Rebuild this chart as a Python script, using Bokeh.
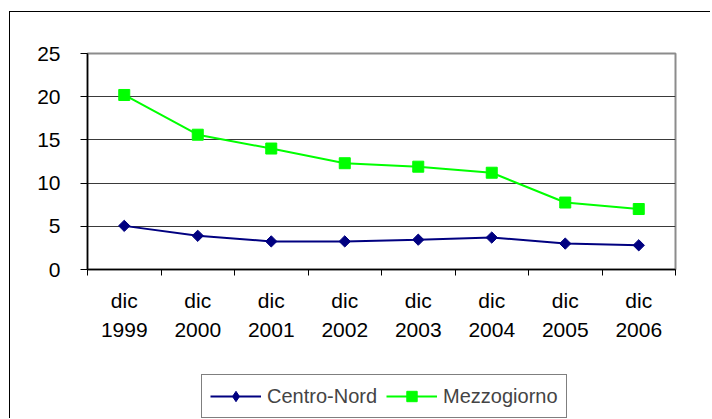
from bokeh.plotting import figure
from bokeh.models import Range1d, FixedTicker, Legend, LegendItem
from bokeh.layouts import column
from bokeh.embed import file_html
from bokeh.resources import INLINE
import numpy as np

months = ["dic"] * 8
years = ["1999", "2000", "2001", "2002", "2003", "2004", "2005", "2006"]
centro_nord = [5.05, 3.9, 3.25, 3.25, 3.45, 3.7, 3.0, 2.8]
mezzogiorno = [20.2, 15.6, 14.0, 12.3, 11.9, 11.2, 7.75, 7.0]
y_ticks = [0, 5, 10, 15, 20, 25]
series_names = ["Centro-Nord", "Mezzogiorno"]
series_colors = ["#000080", "#00ff00"]

n = len(years)
xc = list(np.arange(n) + 0.5)
labels = {float(x): f"{m}\n{y}" for x, m, y in zip(xc, months, years)}

FONT = "Liberation Sans"

p = figure(width=700, height=348, output_backend="svg", toolbar_location=None,
           x_range=Range1d(0, n), y_range=Range1d(0, 25),
           min_border_left=77, min_border_top=41, min_border_right=35,
           min_border_bottom=91)
p.background_fill_color = "white"
p.border_fill_color = "white"
p.outline_line_color = "#8c8c8c"
p.outline_line_width = 2

# grid
p.xgrid.grid_line_color = None
p.ygrid.ticker = FixedTicker(ticks=[5, 10, 15, 20])
p.ygrid.grid_line_color = "#3a3a3a"
p.ygrid.grid_line_width = 1

# y axis
ya = p.yaxis[0]
ya.ticker = FixedTicker(ticks=y_ticks)
ya.axis_line_color = "black"
ya.axis_line_width = 1.5
ya.major_tick_line_color = "black"
ya.major_tick_out = 7
ya.major_tick_in = 0
ya.minor_tick_line_color = None
ya.major_label_text_font = FONT
ya.major_label_text_font_size = "21px"
ya.major_label_text_color = "black"
ya.major_label_standoff = 20

# x axis
xa = p.xaxis[0]
xa.ticker = FixedTicker(ticks=xc, minor_ticks=list(range(n + 1)))
xa.major_label_overrides = labels
xa.axis_line_color = "black"
xa.axis_line_width = 1.5
xa.major_tick_line_color = None
xa.major_tick_out = 0
xa.major_tick_in = 0
xa.minor_tick_line_color = "black"
xa.minor_tick_out = 6
xa.minor_tick_in = 0
xa.major_label_text_font = FONT
xa.major_label_text_font_size = "21px"
xa.major_label_text_color = "black"
xa.major_label_text_line_height = 1.28
xa.major_label_standoff = 13

# series
def add_series(fig, yvals, color, marker, size, angle):
    ln = fig.line(xc, yvals, line_color=color, line_width=2)
    mk = fig.scatter(xc, yvals, marker=marker, angle=angle, size=size,
                     fill_color=color, line_color=color)
    return ln, mk

l1, m1 = add_series(p, centro_nord, series_colors[0], "square", 8, np.pi / 4)
l2, m2 = add_series(p, mezzogiorno, series_colors[1], "square", 11, 0)

# legend strip (separate canvas so the legend is not clipped by the plot frame);
# its copies of the series lie outside its visible range, only legend glyphs show
q = figure(width=700, height=58, output_backend="svg", toolbar_location=None,
           x_range=Range1d(0, 1), y_range=Range1d(-2, -1),
           min_border_left=0, min_border_right=0, min_border_top=0,
           min_border_bottom=0)
q.axis.visible = False
q.grid.visible = False
q.outline_line_color = None
q.background_fill_color = "white"
q.border_fill_color = "white"
ql1, qm1 = add_series(q, centro_nord, series_colors[0], "diamond", 14, 0)
ql2, qm2 = add_series(q, mezzogiorno, series_colors[1], "square", 11, 0)

legend = Legend(items=[LegendItem(label=series_names[0], renderers=[ql1, qm1]),
                       LegendItem(label=series_names[1], renderers=[ql2, qm2])],
                orientation="horizontal", location=(114, 0),
                glyph_width=51, glyph_height=26, label_standoff=6, spacing=9,
                padding=8, margin=0,
                label_text_font=FONT, label_text_font_size="20px",
                border_line_color="black", border_line_width=1,
                background_fill_color="white", background_fill_alpha=1)
q.add_layout(legend, "center")

layout = column(p, q, spacing=0)
layout.margin = (11, 0, 0, 9)
layout.styles = {"border-left": "1px solid black", "border-top": "1px solid black"}

open("out.html", "w").write(file_html(layout, INLINE))
